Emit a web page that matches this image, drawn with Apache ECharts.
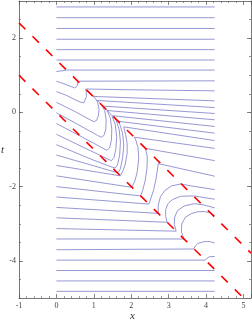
<!DOCTYPE html>
<html><head><meta charset="utf-8">
<script src="https://cdn.jsdelivr.net/npm/echarts@6/dist/echarts.min.js"></script>
<style>html,body{margin:0;padding:0;background:#fff}#c{width:252px;height:324px}</style>
</head><body><div id="c"></div>
<script>
const tTickValues = [-4, -2, 0, 2];
const redUpper = [[-1, 2.41], [5.2, -3.79]];
const redLower = [[-1, 1], [5, -5]];
const c00 = [[0, 2.84], [4.23, 2.84]];
const c01 = [[0, 2.55], [4.23, 2.55]];
const c02 = [[0, 2.26], [4.23, 2.26]];
const c03 = [[0, 1.97], [4.23, 1.97]];
const c04 = [[0, 1.69], [4.23, 1.69]];
const c05 = [[0, 1.41], [4.23, 1.41]];
const c06 = [[0, 1.10], [0.15, 1.12], [0.27, 1.14], [4.23, 1.14]];
const c07 = [[0, 0.84], [0.2, 0.77], [0.38, 0.70], [0.48, 0.66], [0.54, 0.69], [0.57, 0.76], [0.57, 0.84], [4.23, 0.85]];
const c08 = [[0, 0.56], [0.24, 0.47], [0.5, 0.34], [0.66, 0.27], [0.73, 0.26], [0.78, 0.31], [0.8, 0.42], [0.8, 0.53], [0.78, 0.63], [1.87, 0.61], [4.23, 0.58]];
const c09 = [[0, 0.27], [0.5, 0.02], [0.9, -0.2], [1.0, -0.25], [1.07, -0.22], [1.12, -0.1], [1.14, 0.08], [1.1, 0.27], [1.04, 0.38], [0.98, 0.43], [4.23, 0.31]];
const c10 = [[0, -0.01], [0.6, -0.34], [1.1, -0.62], [1.2, -0.67], [1.27, -0.62], [1.32, -0.45], [1.33, -0.2], [1.29, 0.05], [1.2, 0.22], [1.09, 0.32], [4.23, 0.13]];
const c11 = [[0, -0.30], [0.7, -0.67], [1.25, -0.97], [1.35, -1.02], [1.42, -0.96], [1.47, -0.75], [1.48, -0.45], [1.44, -0.15], [1.35, 0.06], [1.24, 0.17], [4.23, -0.03]];
const c12 = [[0, -0.59], [0.8, -0.98], [1.36, -1.25], [1.47, -1.3], [1.54, -1.22], [1.59, -0.98], [1.61, -0.65], [1.57, -0.32], [1.48, -0.08], [1.36, 0.05], [4.23, -0.2]];
const c13 = [[0, -0.87], [0.9, -1.25], [1.47, -1.47], [1.57, -1.5], [1.63, -1.42], [1.69, -1.15], [1.71, -0.8], [1.68, -0.48], [1.6, -0.22], [1.5, -0.09], [4.23, -0.38]];
const c14 = [[0, -1.15], [1.0, -1.44], [1.58, -1.61], [1.65, -1.62], [1.71, -1.52], [1.77, -1.22], [1.8, -0.88], [1.77, -0.58], [1.71, -0.36], [1.65, -0.24], [4.23, -0.56]];
const c15 = [[0, -1.43], [1.71, -1.71], [1.78, -1.57], [1.84, -1.39], [1.89, -1.1], [1.89, -0.85], [1.85, -0.6], [1.8, -0.39], [4.23, -0.76]];
const c16 = [[0, -1.71], [2.02, -2.02], [2.1, -1.84], [2.16, -1.6], [2.2, -1.25], [2.18, -0.95], [2.12, -0.74], [2.08, -0.67], [4.23, -0.97]];
const c17 = [[0, -2.0], [2.25, -2.25], [2.3, -2.12], [2.37, -1.85], [2.42, -1.5], [2.43, -1.2], [2.38, -0.97], [4.23, -1.3]];
const c18 = [[0, -2.28], [2.47, -2.47], [2.52, -2.33], [2.6, -2.08], [2.66, -1.8], [2.7, -1.55], [2.72, -1.38], [2.74, -1.33], [4.23, -1.72]];
const c19 = [[0, -2.56], [2.72, -2.72], [2.72, -2.5], [2.78, -2.27], [2.9, -2.1], [3.08, -1.98], [3.32, -1.93], [3.6, -1.98], [4.23, -2.08]];
const c20 = [[0, -2.84], [2.96, -2.96], [2.92, -2.8], [2.92, -2.62], [2.98, -2.46], [3.1, -2.35], [3.32, -2.26], [3.67, -2.25], [4.23, -2.34]];
const c21 = [[0, -3.13], [3.2, -3.2], [3.15, -3.02], [3.16, -2.82], [3.24, -2.64], [3.42, -2.52], [3.68, -2.46], [3.92, -2.49], [4.23, -2.57]];
const c22 = [[0, -3.41], [3.41, -3.41], [3.34, -3.22], [3.35, -3.0], [3.45, -2.82], [3.6, -2.73], [3.76, -2.68], [3.95, -2.67], [4.12, -2.71], [4.23, -2.78]];
const c23 = [[0, -3.70], [3.67, -3.68], [3.71, -3.6], [3.78, -3.53], [3.95, -3.48], [4.1, -3.48], [4.23, -3.52]];
const c24 = [[0, -3.98], [3.97, -3.98], [4.01, -3.93], [4.08, -3.89], [4.23, -3.88]];
const c25 = [[0, -4.26], [4.23, -4.26]];
const c26 = [[0, -4.54], [4.23, -4.54]];
const c27 = [[0, -4.82], [4.23, -4.82]];

const curves = [c00, c01, c02, c03, c04, c05, c06, c07, c08, c09, c10, c11, c12, c13, c14,
  c15, c16, c17, c18, c19, c20, c21, c22, c23, c24, c25, c26, c27];

const chart = echarts.init(document.getElementById('c'), null, {renderer: 'canvas'});
const frame = {show: true, onZero: false, lineStyle: {color: '#555', width: 0.8}};
const labelFont = {fontFamily: 'Liberation Serif', fontSize: 8, color: '#444'};
const blue = {color: '#8484cc', width: 0.85};
const series = curves.map(d => ({type: 'line', data: d, showSymbol: false, symbol: 'none', lineStyle: blue, silent: true, animation: false, clip: true}));
series.push({type: 'line', data: redUpper, showSymbol: false, symbol: 'none', lineStyle: {color: '#ff0000', width: 1.6, type: [9, 10]}, animation: false, z: 5, clip: true});
series.push({type: 'line', data: redLower, showSymbol: false, symbol: 'none', lineStyle: {color: '#ff0000', width: 1.6, type: [9, 10]}, animation: false, z: 5, clip: true});

const tickStyle = {color: '#555', width: 0.7};
chart.setOption({
  animation: false,
  grid: {left: 19, right: 1, top: 1, bottom: 26, containLabel: false},
  graphic: [
    {type: 'text', left: 130, top: 311, style: {text: 'x', font: 'italic 11px "Liberation Serif"', fill: '#333'}},
    {type: 'text', left: 1, top: 145, style: {text: 't', font: 'italic 11px "Liberation Serif"', fill: '#333'}}
  ],
  xAxis: [
    {type: 'value', min: -1, max: 5.2, interval: 1, position: 'bottom', axisLine: frame,
     axisTick: {show: true, inside: true, length: 4, lineStyle: tickStyle},
     minorTick: {show: true, splitNumber: 5, length: 2, lineStyle: {color: '#555', width: 0.6}},
     axisLabel: Object.assign({margin: 4, showMaxLabel: false}, labelFont), splitLine: {show: false}},
    {type: 'value', min: -1, max: 5.2, interval: 1, position: 'top', axisLine: frame,
     axisTick: {show: true, inside: true, length: 4, lineStyle: tickStyle},
     minorTick: {show: true, splitNumber: 5, length: 2, lineStyle: {color: '#555', width: 0.6}},
     axisLabel: {show: false}, splitLine: {show: false}}
  ],
  yAxis: [
    {type: 'value', min: -5, max: 3, position: 'left', axisLine: frame,
     axisTick: {show: true, inside: true, length: 4, customValues: tTickValues, lineStyle: tickStyle},
     axisLabel: Object.assign({margin: 3, customValues: tTickValues}, labelFont), splitLine: {show: false}},
    {type: 'value', min: -5, max: 3, interval: 0.5, position: 'left', offset: 0, axisLine: {show: false, onZero: false},
     axisTick: {show: true, inside: true, length: 2, lineStyle: {color: '#555', width: 0.6}},
     axisLabel: {show: false}, splitLine: {show: false}},
    {type: 'value', min: -5, max: 3, position: 'right', axisLine: frame,
     axisTick: {show: true, inside: true, length: 4, customValues: tTickValues, lineStyle: tickStyle},
     axisLabel: {show: false}, splitLine: {show: false}},
    {type: 'value', min: -5, max: 3, interval: 0.5, position: 'right', offset: 0, axisLine: {show: false, onZero: false},
     axisTick: {show: true, inside: true, length: 2, lineStyle: {color: '#555', width: 0.6}},
     axisLabel: {show: false}, splitLine: {show: false}}
  ],
  series: series
});
</script></body></html>
